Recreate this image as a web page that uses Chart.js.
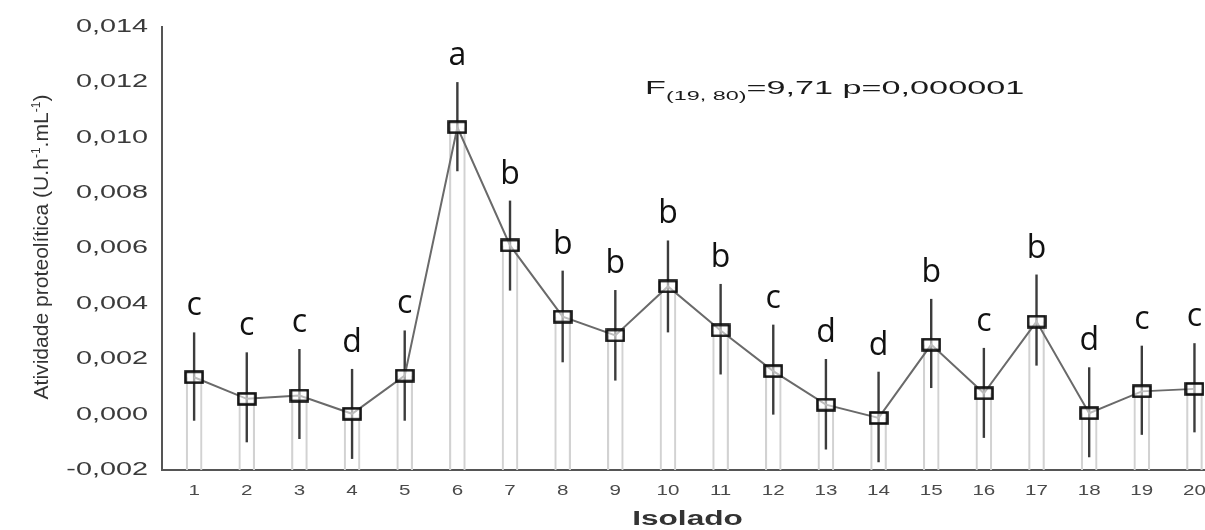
<!DOCTYPE html>
<html>
<head>
<meta charset="utf-8">
<script src="https://cdn.jsdelivr.net/npm/chart.js@4.4.1/dist/chart.umd.min.js"></script>
<style>
  html, body { margin: 0; padding: 0; background: #fff; }
  #wrap { width: 1205px; height: 530px; }
</style>
</head>
<body>
<div id="wrap"><canvas id="chart"></canvas></div>
<script>
// isolates on the x axis
const isolados = [1, 2, 3, 4, 5, 6, 7, 8, 9, 10, 11, 12, 13, 14, 15, 16, 17, 18, 19, 20];
// mean proteolytic activity (U.h-1.mL-1)
const means = [0.00135, 0.00057, 0.00069, 0.00003, 0.00141, 0.01038, 0.00611, 0.00354, 0.00286, 0.00463,
               0.00304, 0.00157, 0.00036, -0.00012, 0.00253, 0.00077, 0.00336, 0.00005, 0.00084, 0.00093];
// whisker ends
const upper = [0.00297, 0.00225, 0.00237, 0.00165, 0.00304, 0.01201, 0.00773, 0.00520, 0.00450, 0.00629,
               0.00472, 0.00325, 0.00201, 0.00155, 0.00418, 0.00241, 0.00506, 0.00171, 0.00249, 0.00258];
const lower = [-0.00022, -0.00100, -0.00088, -0.00160, -0.00022, 0.00879, 0.00448, 0.00189, 0.00123, 0.00297,
               0.00145, 0.00000, -0.00126, -0.00172, 0.00096, -0.00084, 0.00177, -0.00154, -0.00073, -0.00064];
// Tukey groups
const groups = ['c', 'c', 'c', 'd', 'c', 'a', 'b', 'b', 'b', 'b', 'b', 'c', 'd', 'd', 'b', 'c', 'b', 'd', 'c', 'c'];
const yTicks = [-0.002, 0.000, 0.002, 0.004, 0.006, 0.008, 0.010, 0.012, 0.014];
const xLabels = isolados.map(String);

const fmt = v => (Math.abs(v) < 1e-9 ? 0 : v).toFixed(3).replace('.', ',');

function boxMarker() {
  const c = document.createElement('canvas');
  c.width = 20; c.height = 14;
  const g = c.getContext('2d');
  g.fillStyle = 'rgba(255,255,255,0.55)';
  g.fillRect(1.5, 1.5, 17, 11);
  g.strokeStyle = '#111';
  g.lineWidth = 2.6;
  g.strokeRect(1.5, 1.5, 17, 11);
  return c;
}

// text stretched sideways like the scanned figure
function wideText(ctx, text, x, y, font, sx, align, color) {
  ctx.save();
  ctx.font = font;
  ctx.fillStyle = color;
  ctx.textAlign = align;
  ctx.textBaseline = 'middle';
  ctx.translate(x, y);
  ctx.scale(sx, 1);
  ctx.fillText(text, 0, 0);
  ctx.restore();
}

// runs of text with sub/superscripts, drawn left to right from 0,0
function runsWidth(ctx, runs) {
  let w = 0;
  runs.forEach(r => { ctx.font = r.font; w += ctx.measureText(r.t).width; });
  return w;
}
function drawRuns(ctx, runs, x0) {
  let x = x0;
  runs.forEach(r => {
    ctx.font = r.font;
    ctx.fillText(r.t, x, r.dy || 0);
    x += ctx.measureText(r.t).width;
  });
}

const annotations = {
  id: 'annotations',
  beforeDatasetsDraw(chart) {
    const ctx = chart.ctx, xs = chart.scales.x, ys = chart.scales.y;
    ctx.save();
    ctx.strokeStyle = '#3c3c3c';
    ctx.lineWidth = 2.4;
    isolados.forEach((v, i) => {
      const px = xs.getPixelForValue(v);
      ctx.beginPath();
      ctx.moveTo(px, ys.getPixelForValue(upper[i]));
      ctx.lineTo(px, ys.getPixelForValue(lower[i]));
      ctx.stroke();
    });
    ctx.restore();
  },
  afterDraw(chart) {
    const ctx = chart.ctx, xs = chart.scales.x, ys = chart.scales.y, area = chart.chartArea;

    // y tick labels
    yTicks.forEach(v => {
      wideText(ctx, fmt(v), 148, ys.getPixelForValue(v), '18px "Liberation Sans", Arial, sans-serif', 1.6, 'right', '#3a3a3a');
    });
    // x tick labels
    isolados.forEach((v, i) => {
      wideText(ctx, xLabels[i], xs.getPixelForValue(v), 491, '14px "Liberation Sans", Arial, sans-serif', 1.47, 'center', '#4a4a4a');
    });
    // x title
    wideText(ctx, 'Isolado', (area.left + area.right) / 2 + 4, 519, 'bold 20px "Liberation Sans", Arial, sans-serif', 1.58, 'center', '#333');

    // y title, rotated
    const yRuns = [
      { t: 'Atividade proteolítica (U.h', font: '21px "Liberation Sans", Arial, sans-serif' },
      { t: '-1', font: '12px "Liberation Sans", Arial, sans-serif', dy: -8 },
      { t: '.mL', font: '21px "Liberation Sans", Arial, sans-serif' },
      { t: '-1', font: '12px "Liberation Sans", Arial, sans-serif', dy: -8 },
      { t: ')', font: '21px "Liberation Sans", Arial, sans-serif' }
    ];
    ctx.save();
    ctx.fillStyle = '#333';
    ctx.textBaseline = 'alphabetic';
    ctx.translate(48, 247);
    ctx.rotate(-Math.PI / 2);
    const tw = runsWidth(ctx, yRuns);
    ctx.scale(305 / tw, 1);
    drawRuns(ctx, yRuns, -tw / 2);
    ctx.restore();

    // ANOVA result
    const fRuns = [
      { t: 'F', font: '19px "Liberation Sans", Arial, sans-serif' },
      { t: '(19, 80)', font: '13px "Liberation Sans", Arial, sans-serif', dy: 6 },
      { t: '=9,71 p=0,000001', font: '19px "Liberation Sans", Arial, sans-serif' }
    ];
    ctx.save();
    ctx.fillStyle = '#1a1a1a';
    ctx.textBaseline = 'alphabetic';
    ctx.translate(645, 94);
    ctx.scale(1.8, 1);
    drawRuns(ctx, fRuns, 0);
    ctx.restore();

    // group letters over the whiskers
    ctx.save();
    ctx.fillStyle = '#111';
    ctx.font = '32px "Open Sans", sans-serif';
    ctx.textAlign = 'center';
    ctx.textBaseline = 'alphabetic';
    isolados.forEach((v, i) => {
      ctx.fillText(groups[i], xs.getPixelForValue(v), ys.getPixelForValue(upper[i]) - 17);
    });
    ctx.restore();
  }
};

new Chart(document.getElementById('chart'), {
  type: 'bar',
  data: {
    datasets: [
      {
        type: 'line',
        data: isolados.map((v, i) => ({ x: v, y: means[i] })),
        borderColor: '#6a6a6a',
        borderWidth: 2,
        pointStyle: boxMarker(),
        pointRadius: 8,
        tension: 0,
        order: 0
      },
      {
        type: 'bar',
        data: isolados.map((v, i) => ({ x: v, y: [yTicks[0], means[i]] })),
        backgroundColor: 'rgba(0,0,0,0)',
        borderColor: '#d2d2d2',
        borderWidth: { left: 1.5, right: 1.5, top: 0, bottom: 0 },
        borderSkipped: false,
        barThickness: 16,
        order: 1
      }
    ]
  },
  options: {
    responsive: true,
    maintainAspectRatio: false,
    animation: false,
    layout: { autoPadding: false, padding: { top: 27, right: 0, bottom: 0, left: 0 } },
    plugins: { legend: { display: false }, tooltip: { enabled: false } },
    scales: {
      x: {
        type: 'linear',
        offset: false,
        min: 0.39,
        max: 20.2,
        grid: { display: false },
        border: { display: true, color: '#555', width: 2 },
        ticks: { display: false },
        afterFit: s => { s.height = 60; }
      },
      y: {
        min: yTicks[0],
        max: yTicks[yTicks.length - 1],
        grid: { display: false },
        border: { display: true, color: '#555', width: 2 },
        ticks: { display: false },
        afterFit: s => { s.width = 162; }
      }
    }
  },
  plugins: [annotations]
});
</script>
</body>
</html>
